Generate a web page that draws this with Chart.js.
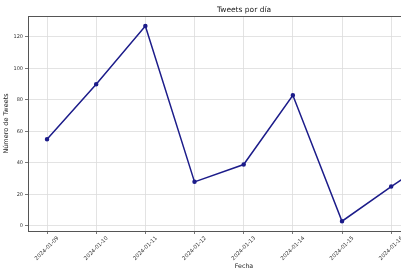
<!DOCTYPE html>
<html>
<head>
<meta charset="utf-8">
<script src="https://cdn.jsdelivr.net/npm/chart.js@4"></script>
<style>
  html, body { margin: 0; padding: 0; background: #fff; overflow: hidden; }
  #recorte { width: 401px; height: 277px; overflow: hidden; }
  #wrap { width: 469px; height: 277px; }
</style>
</head>
<body>
<div id="recorte"><div id="wrap"><canvas id="chartTweets"></canvas></div></div>
<script>
// ===== DATOS =====
const fechas = ['2024-01-09', '2024-01-10', '2024-01-11', '2024-01-12', '2024-01-13', '2024-01-14', '2024-01-15', '2024-01-16', '2024-01-17'];
const tweets = [55, 90, 127, 28, 39, 83, 3, 25, 46];
const yTicks = [0, 20, 40, 60, 80, 100, 120];

// título centrado sobre el área de trazado + marco superior (estilo matplotlib)
const estiloEjes = {
    id: 'estiloEjes',
    afterLayout(chart) {
        if (chart.titleBlock) {
            chart.titleBlock.left = chart.chartArea.left;
            chart.titleBlock.right = chart.chartArea.right;
        }
    },
    afterDraw(chart) {
        const { ctx, chartArea } = chart;
        ctx.save();
        ctx.strokeStyle = '#555';
        ctx.lineWidth = 1;
        ctx.beginPath();
        ctx.moveTo(chartArea.left, chartArea.top + 0.5);
        ctx.lineTo(chartArea.right, chartArea.top + 0.5);
        ctx.stroke();
        ctx.restore();
    }
};

const ctx = document.getElementById('chartTweets').getContext('2d');
const chart = new Chart(ctx, {
    type: 'line',
    data: {
        datasets: [{
            label: 'Tweets',
            data: tweets.map((v, i) => ({ x: i, y: v })),
            borderColor: '#1c1c8a',
            backgroundColor: '#1c1c8a',
            borderWidth: 1.5,
            pointRadius: 1.5,
            pointHoverRadius: 1.5,
            tension: 0
        }]
    },
    options: {
        responsive: true,
        maintainAspectRatio: false,
        animation: false,
        layout: { padding: { left: 0, right: 9, top: 0, bottom: 0 } },
        plugins: {
            legend: { display: false },
            tooltip: { enabled: false },
            title: {
                display: true,
                text: 'Tweets por día',
                color: '#222',
                font: { family: 'DejaVu Sans', size: 7.5, weight: 'normal' },
                padding: { top: 6, bottom: 1 }
            }
        },
        scales: {
            x: {
                type: 'linear',
                min: -0.387,
                max: 8.4,
                afterBuildTicks(scale) {
                    scale.ticks = fechas.map((f, i) => ({ value: i }));
                },
                afterFit(scale) {
                    scale.height = 46;
                    scale.paddingLeft = 0;
                    scale.paddingRight = 0;
                },
                ticks: {
                    autoSkip: false,
                    minRotation: 45,
                    maxRotation: 45,
                    labelOffset: 11,
                    padding: 1,
                    color: '#333',
                    font: { family: 'DejaVu Sans', size: 5.4 },
                    callback: (v) => fechas[v]
                },
                grid: { color: '#dcdcdc', lineWidth: 0.8, tickLength: 3, tickColor: '#555' },
                border: { color: '#555', width: 1 },
                title: {
                    display: true,
                    text: 'Fecha',
                    color: '#222',
                    font: { family: 'DejaVu Sans', size: 6.3 },
                    padding: { top: 0, bottom: 7 }
                }
            },
            y: {
                min: -3.2,
                max: 133.3,
                afterBuildTicks(scale) {
                    scale.ticks = yTicks.map(v => ({ value: v }));
                },
                afterFit(scale) {
                    scale.width = 28;
                    scale.paddingTop = 0;
                    scale.paddingBottom = 0;
                },
                ticks: {
                    padding: 2,
                    color: '#333',
                    font: { family: 'DejaVu Sans', size: 5 }
                },
                grid: { color: '#dcdcdc', lineWidth: 0.8, tickLength: 3, tickColor: '#555' },
                border: { color: '#555', width: 1 },
                title: {
                    display: true,
                    text: 'Número de Tweets',
                    color: '#222',
                    font: { family: 'DejaVu Sans', size: 6.5 },
                    padding: { top: 2, bottom: 0 }
                }
            }
        }
    },
    plugins: [estiloEjes]
});
</script>
</body>
</html>
